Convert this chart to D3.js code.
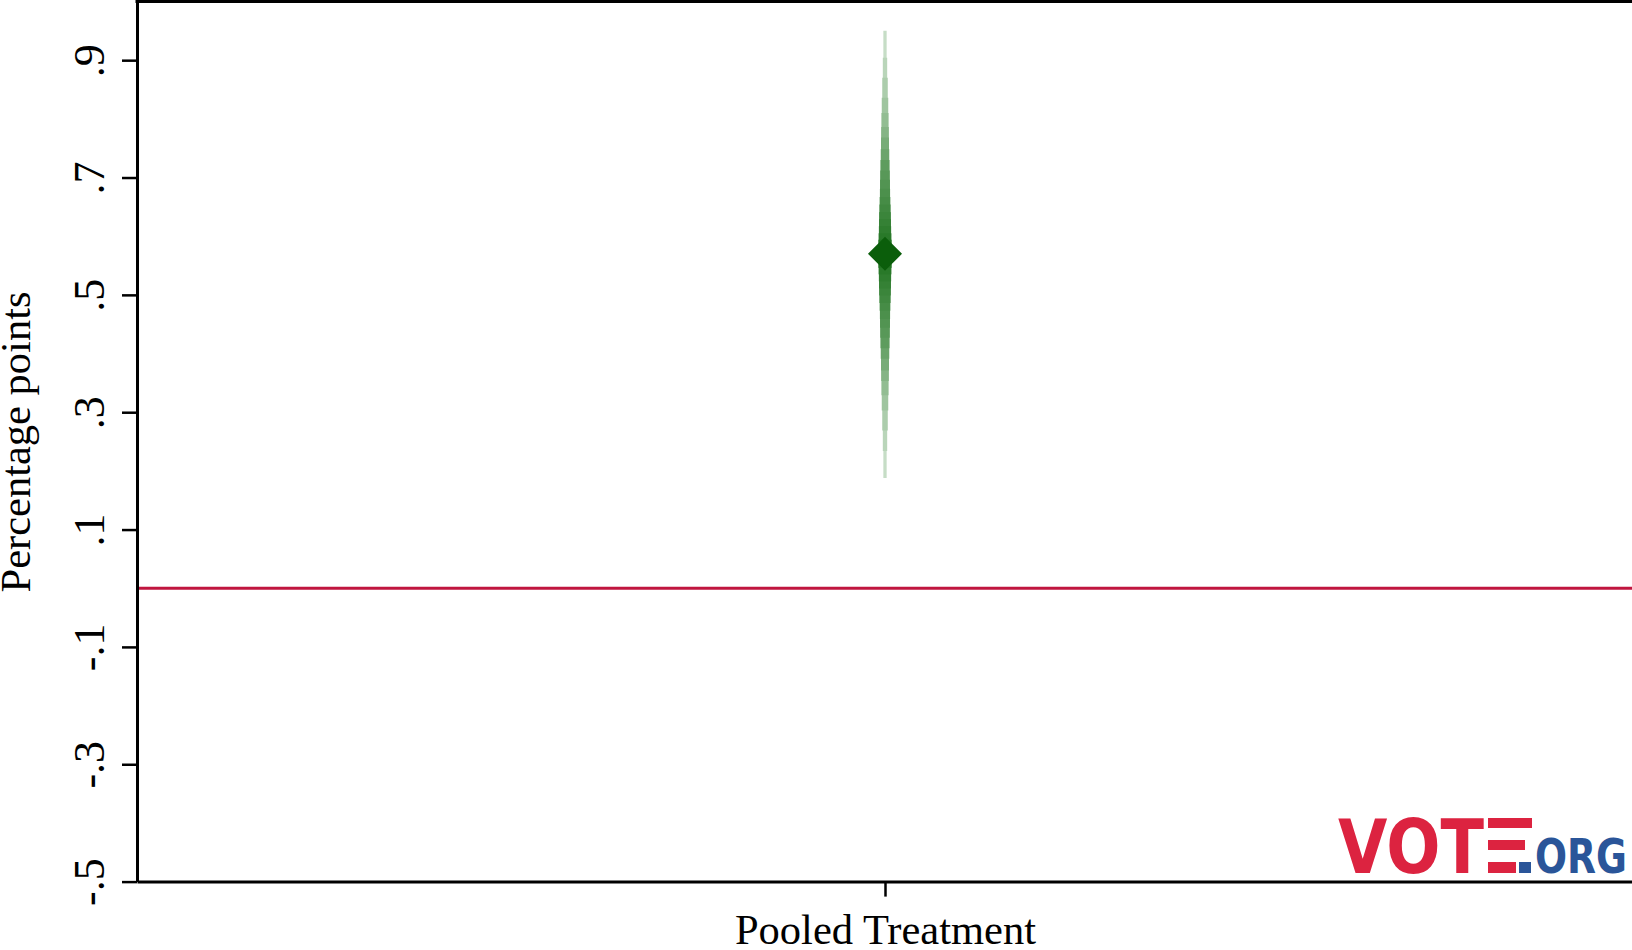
<!DOCTYPE html>
<html>
<head>
<meta charset="utf-8">
<script src="https://cdn.jsdelivr.net/npm/d3@7"></script>
<style>
  body { margin: 0; background: #fff; }
  svg { display: block; }
</style>
</head>
<body>
<div id="chart"></div>
<script>
let categories   = ["Pooled Treatment"];
let estimate     = [0.57];
// stacked confidence bands, outermost first
let ci_upper     = [0.950, 0.904, 0.870, 0.836, 0.810, 0.786, 0.768, 0.748, 0.730, 0.712,
                    0.696, 0.681, 0.667, 0.654, 0.641, 0.629, 0.617, 0.605, 0.594, 0.583];
let ci_lower     = [0.188, 0.234, 0.269, 0.303, 0.329, 0.353, 0.371, 0.391, 0.409, 0.427,
                    0.444, 0.459, 0.473, 0.486, 0.499, 0.511, 0.523, 0.535, 0.546, 0.557];
let y_ticks      = [-0.5, -0.3, -0.1, 0.1, 0.3, 0.5, 0.7, 0.9];
let y_tick_labels = ["-.5", "-.3", "-.1", ".1", ".3", ".5", ".7", ".9"];
let ref_line     = [0];

let chart_width  = 1632;
let chart_height = 950;
let plot_left   = 137;
let plot_bottom = 881.6;
let plot_top    = 1.5;

let svg = d3.select("#chart")
            .append('svg')
            .attr('width', chart_width)
            .attr('height', chart_height);

//scales
let x_scale = d3.scalePoint()
        .domain(categories)
        .range([plot_left, chart_width + 1])
        .padding(0.5);

let y_scale = d3.scaleLinear()
        .domain([-0.5, 1.0])
        .range([plot_bottom, plot_top]);

let band_idx = d3.range(ci_upper.length);
let w_scale = d3.scaleLinear()
        .domain([0, 3, 7, ci_upper.length - 1])
        .range([3.3, 6.5, 8.5, 13.5]);
let c_scale = d3.scaleLinear()
        .domain([0, 8, ci_upper.length - 1])
        .range(["#c6ddc6", "#5e9c5e", "#1d711d"]);

let font = "'Liberation Serif', 'Times New Roman', serif";

//reference line
svg.selectAll('line.ref')
  .data(ref_line)
  .enter()
  .append('line')
  .attr('class', 'ref')
  .attr('x1', plot_left)
  .attr('x2', chart_width)
  .attr('y1', d => y_scale(d))
  .attr('y2', d => y_scale(d))
  .attr('stroke', '#c0163f')
  .attr('stroke-width', 3);

//confidence bands
categories.forEach((cat, ci) => {
  svg.append('g')
    .selectAll('line')
    .data(band_idx)
    .enter()
    .append('line')
    .attr('x1', x_scale(cat))
    .attr('x2', x_scale(cat))
    .attr('y1', i => y_scale(ci_upper[i]))
    .attr('y2', i => y_scale(ci_lower[i]))
    .attr('stroke', i => c_scale(i))
    .attr('stroke-width', i => w_scale(i));
});

//point estimate
svg.selectAll('path.est')
  .data(estimate)
  .enter()
  .append('path')
  .attr('class', 'est')
  .attr('d', d3.symbol().type(d3.symbolSquare).size(580))
  .attr('transform', (d, i) => 'translate(' + x_scale(categories[i]) + ',' + y_scale(d) + ') rotate(45)')
  .attr('fill', '#0b5e0b');

//axes
let y_axis = d3.axisLeft(y_scale)
        .tickValues(y_ticks)
        .tickSize(15)
        .tickSizeOuter(0)
        .tickFormat((d, i) => y_tick_labels[i]);

let yg = svg.append('g')
  .attr('transform', 'translate(' + plot_left + ',0)')
  .call(y_axis);
yg.select('.domain').attr('stroke-width', 3).attr('stroke', '#000');
yg.selectAll('.tick line').attr('stroke-width', 2.5).attr('stroke', '#000');
yg.selectAll('.tick text')
  .attr('x', 0)
  .attr('dy', 0)
  .attr('text-anchor', 'middle')
  .attr('transform', 'translate(-33,0) rotate(-90)')
  .attr('font-family', font)
  .attr('font-size', 44)
  .attr('fill', '#000');

let x_axis = d3.axisBottom(x_scale)
        .tickSize(15)
        .tickSizeOuter(0);

let xg = svg.append('g')
  .attr('transform', 'translate(0,' + plot_bottom + ')')
  .call(x_axis);
xg.select('.domain').attr('stroke-width', 3).attr('stroke', '#000');
xg.selectAll('.tick line').attr('stroke-width', 2.5).attr('stroke', '#000');
xg.selectAll('.tick text')
  .attr('y', 62)
  .attr('dy', 0)
  .attr('font-family', font)
  .attr('font-size', 42.5)
  .attr('fill', '#000');

//top frame
svg.append('line')
  .attr('x1', plot_left - 1.5)
  .attr('x2', chart_width)
  .attr('y1', plot_top)
  .attr('y2', plot_top)
  .attr('stroke', '#000')
  .attr('stroke-width', 3);

//y title
svg.append('text')
  .text('Percentage points')
  .attr('text-anchor', 'middle')
  .attr('transform', 'translate(30,442) rotate(-90)')
  .attr('font-family', font)
  .attr('font-size', 42.5)
  .attr('fill', '#000');

//logo
let logo = svg.append('g');
logo.append('text')
  .text('VOT')
  .attr('x', 1338)
  .attr('y', 873)
  .attr('textLength', 146)
  .attr('lengthAdjust', 'spacingAndGlyphs')
  .attr('font-family', "'DejaVu Sans', sans-serif")
  .attr('font-weight', 'bold')
  .attr('font-size', 75)
  .attr('fill', '#dc2340');
logo.append('rect').attr('x', 1488).attr('y', 818).attr('width', 44).attr('height', 10).attr('fill', '#dc2340');
logo.append('rect').attr('x', 1488).attr('y', 840).attr('width', 37).attr('height', 10).attr('fill', '#dc2340');
logo.append('rect').attr('x', 1488).attr('y', 862).attr('width', 28).attr('height', 11).attr('fill', '#dc2340');
logo.append('rect').attr('x', 1519).attr('y', 862).attr('width', 12).attr('height', 11).attr('fill', '#2a5599');
logo.append('text')
  .text('ORG')
  .attr('x', 1535)
  .attr('y', 873)
  .attr('textLength', 92)
  .attr('lengthAdjust', 'spacingAndGlyphs')
  .attr('font-family', "'DejaVu Sans', sans-serif")
  .attr('font-weight', 'bold')
  .attr('font-size', 48)
  .attr('fill', '#2a5599');
</script>
</body>
</html>
